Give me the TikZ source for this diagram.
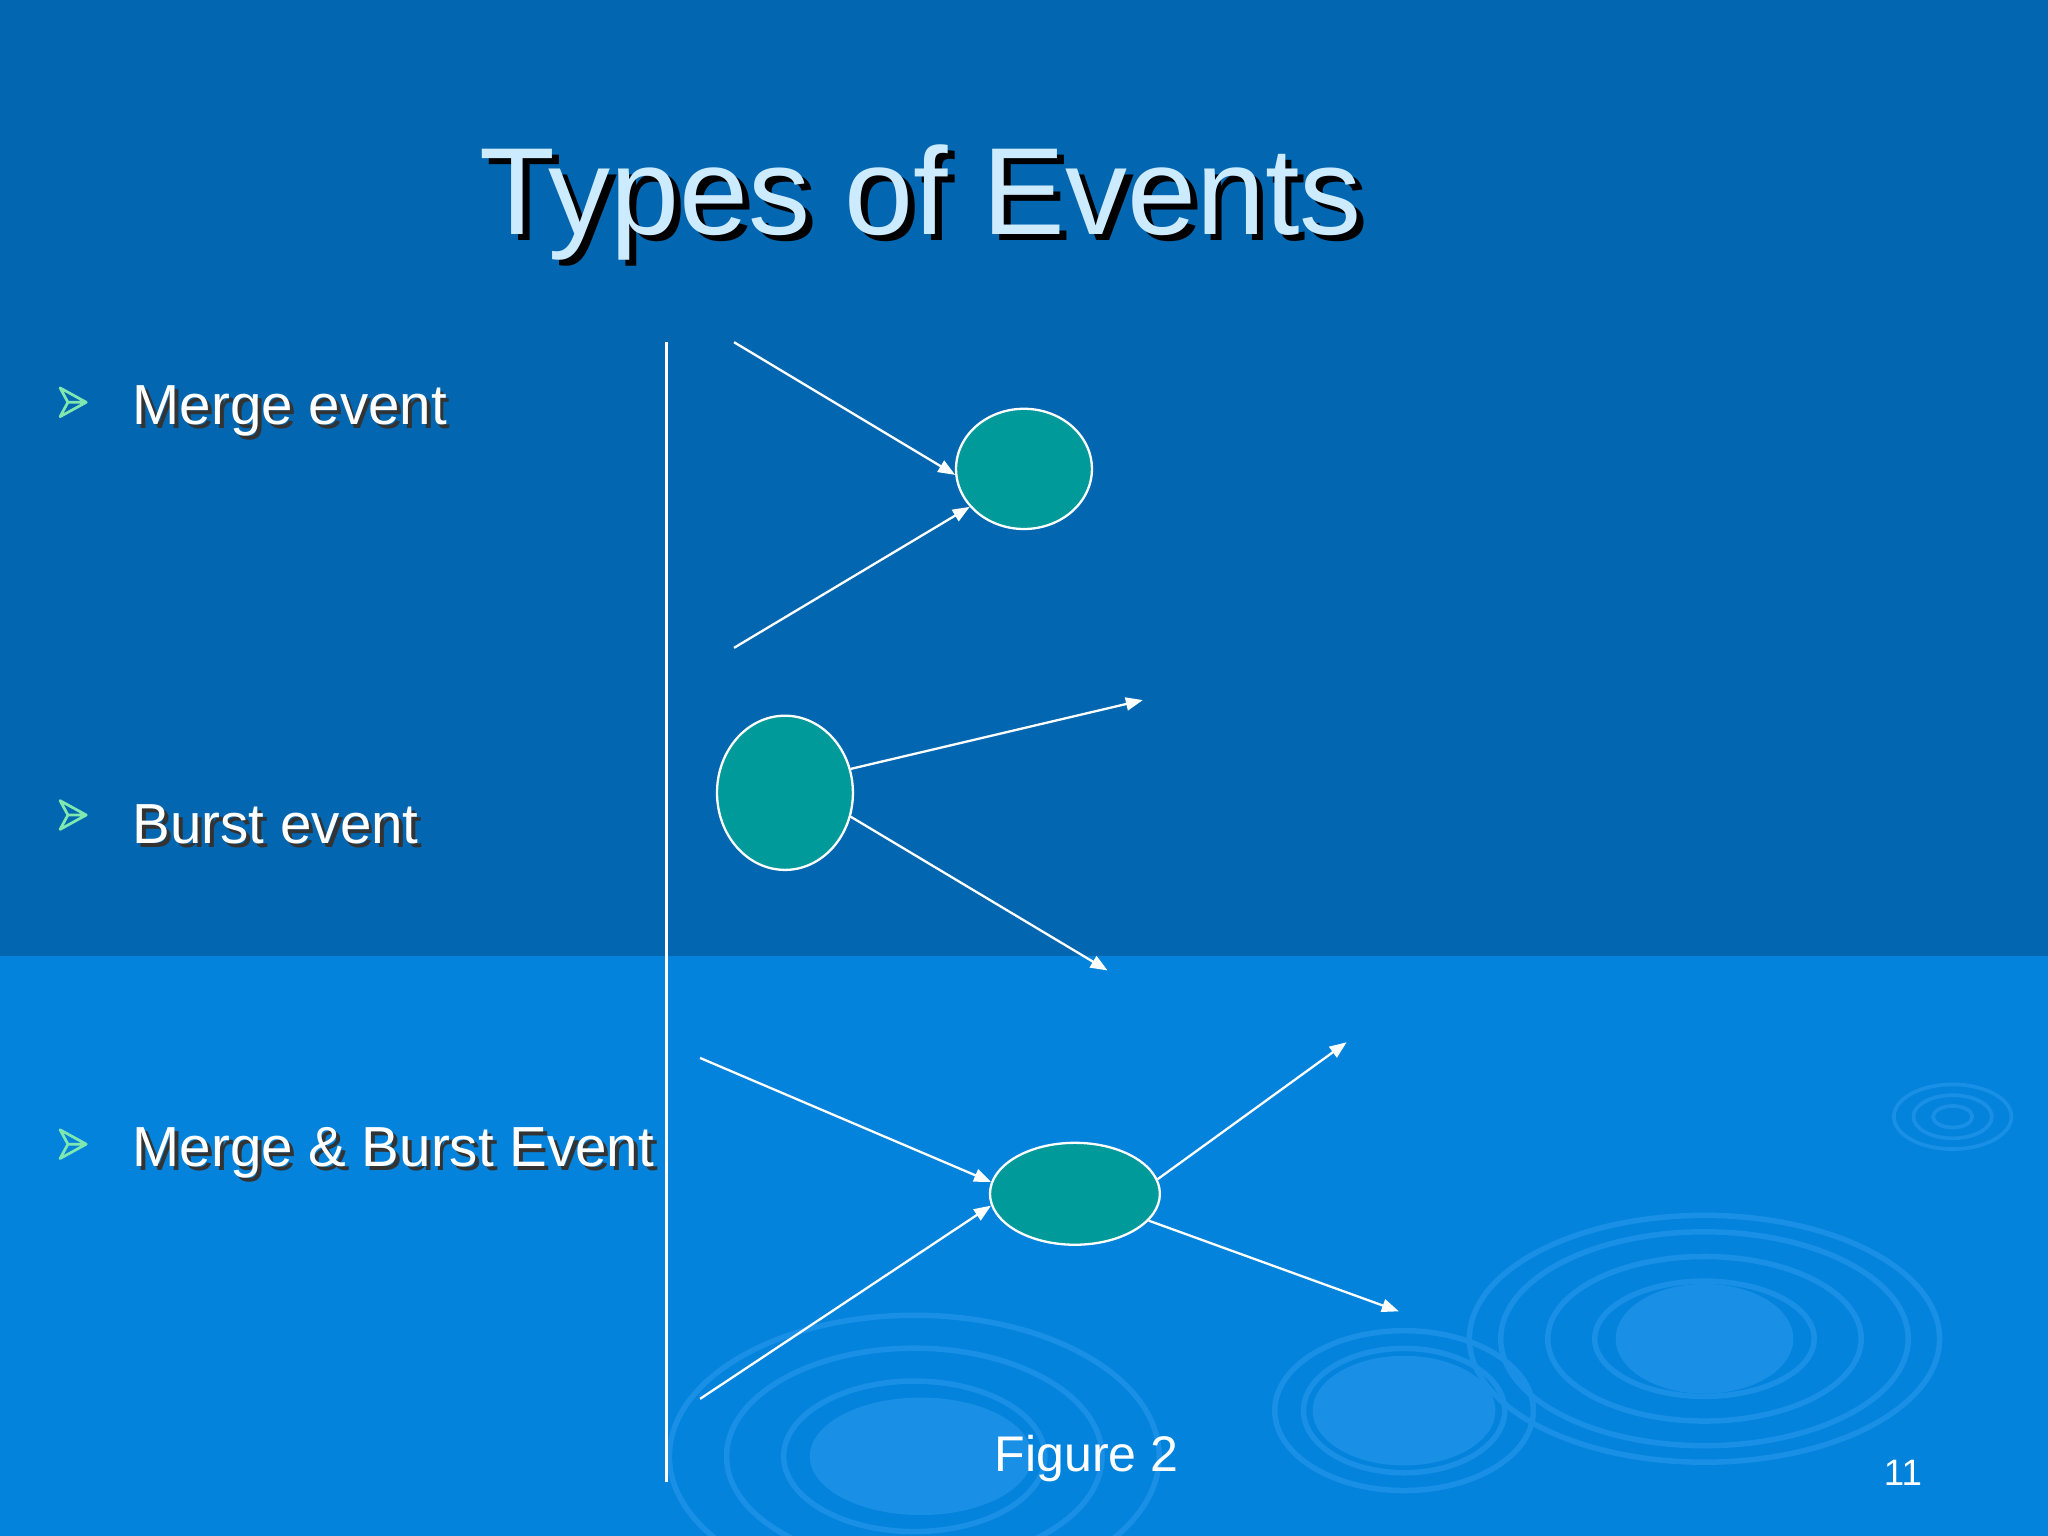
\documentclass[tikz,border=0pt]{standalone}
\usepackage{fontspec}
\setmainfont{Liberation Sans}
\usetikzlibrary{arrows.meta,shapes.geometric}
\definecolor{topbg}{HTML}{0266B0}
\definecolor{botbg}{HTML}{0383DC}
\definecolor{ripple}{HTML}{1A8FE6}
\definecolor{teal}{HTML}{009A9A}
\definecolor{titlec}{HTML}{CDEBFF}
\definecolor{bulletc}{HTML}{7FE8B0}
\tikzset{
  ev/.style={ellipse, draw=white, line width=0.5pt, fill=teal, inner sep=0pt},
  arr/.style={draw=white, line width=0.5pt, -{Triangle[length=1.3mm,width=1mm]}},
  lbl/.style={anchor=west, inner sep=0pt, text=white, font=\fontsize{12.3}{14}\selectfont},
  shad/.style={anchor=west, inner sep=0pt, text=black!80, font=\fontsize{12.3}{14}\selectfont},
  rip/.style={draw=ripple, line width=1.2pt}
}
\begin{document}
\begin{tikzpicture}[x=0.01cm,y=-0.01cm]
\useasboundingbox (0,0) rectangle (1568,1176);
\fill[topbg] (0,0) rectangle (1568,732);
\fill[botbg] (0,732) rectangle (1568,1176);
% ripples
\foreach \r in {40,70,100,130,150} \draw[rip] (1305,1025) ellipse ({\r*1.2} and {\r*0.63});
\fill[ripple] (1305,1025) ellipse (68 and 42);
\foreach \r in {40,70,90} \draw[rip] (1075,1080) ellipse ({\r*1.1} and {\r*0.68});
\fill[ripple] (1075,1080) ellipse (70 and 42);
\foreach \r in {45,80,115,150} \draw[rip] (700,1115) ellipse ({\r*1.25} and {\r*0.72});
\fill[ripple] (705,1115) ellipse (85 and 45);
\foreach \r in {15,30,45} \draw[rip,line width=0.8pt] (1495,855) ellipse ({\r} and {\r*0.55});
% title
\node[text=black, font=\fontsize{27}{30}\selectfont] at (710,160) {Types of Events};
\node[text=titlec, font=\fontsize{27}{30}\selectfont] (title) at (705,155) {Types of Events};
% bullets
\foreach \y/\t [count=\i] in {311/Merge event,627/Burst event,879/{Merge \& Burst Event}}{
  \draw[bulletc, line width=0.6pt, line join=round] (46,\y-14) -- (66,\y-3) -- (46,\y+8) -- (52,\y-3) -- cycle (52,\y-3) -- (66,\y-3);
  \node[shad] at (104,\y+7) {\t};
  \node[lbl] (b\i) at (101,\y+4) {\t};
}
% vertical line
\draw[white, line width=0.6pt] (510,262) -- (510,1135);
% ellipses
\node[ev, minimum width=1.04cm, minimum height=0.92cm] (m) at (784,359) {};
\node[ev, minimum width=1.04cm, minimum height=1.18cm] (b) at (601,607) {};
\node[ev, minimum width=1.3cm, minimum height=0.78cm] (mb) at (823,914) {};
% free ends
\coordinate (m1) at (562,262); \coordinate (m2) at (562,496);
\coordinate (b1) at (875,536); \coordinate (b2) at (848,743);
\coordinate (c1) at (536,810); \coordinate (c2) at (536,1071);
\coordinate (c3) at (1031,798); \coordinate (c4) at (1071,1004);
\draw[arr] (m1) -- (m.185);
\draw[arr] (m2) -- (m.215);
\draw[arr] (b.20) -- (b1);
\draw[arr] (b.-20) -- (b2);
\draw[arr] (c1) -- (mb.172);
\draw[arr] (c2) -- (mb.188);
\draw[arr] (mb.10) -- (c3);
\draw[arr] (mb.-20) -- (c4);
% captions
\node[text=white, font=\fontsize{10.9}{13}\selectfont] (fig) at (832,1117) {Figure 2};
\node[text=white, font=\fontsize{8}{10}\selectfont] (pg) at (1457,1128) {11};
\end{tikzpicture}
\end{document}
